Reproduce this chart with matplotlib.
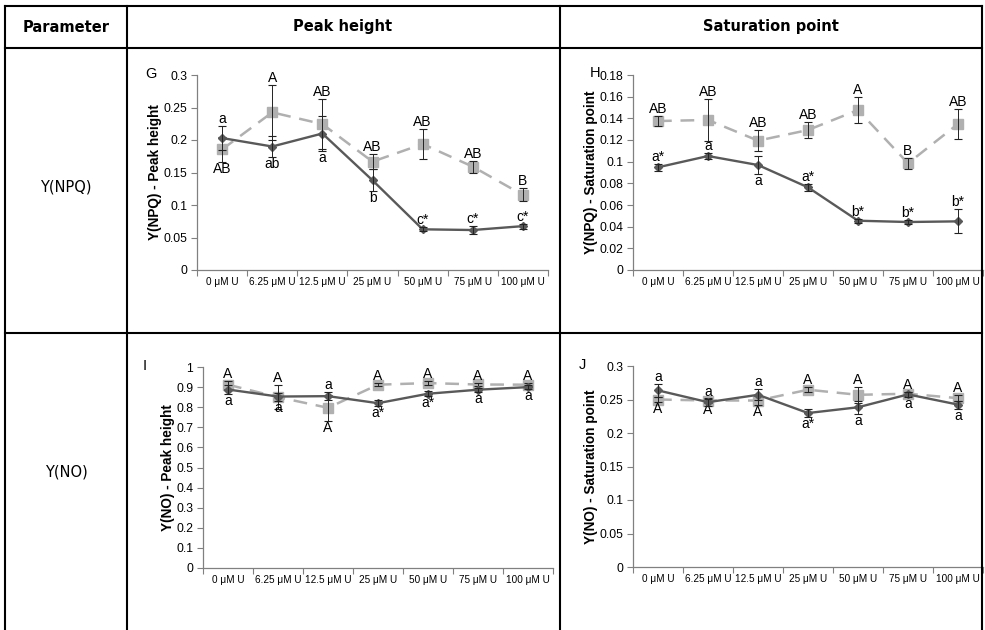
import matplotlib
matplotlib.use('Agg')
import matplotlib.pyplot as plt
from matplotlib.lines import Line2D
from matplotlib.ticker import FuncFormatter
import numpy as np

plt.rcParams['font.family'] = ['Liberation Sans', 'DejaVu Sans']

conc = ['0 μM U', '6.25 μM U', '12.5 μM U', '25 μM U',
        '50 μM U', '75 μM U', '100 μM U']

# G: Y(NPQ) peak height
g_solid = [0.203, 0.190, 0.210, 0.138, 0.0626, 0.0615, 0.0675]
g_solid_err = [0.018, 0.016, 0.027, 0.017, 0.003, 0.006, 0.004]
g_solid_txt = ['a', 'ab', 'a', 'b', 'c*', 'c*', 'c*']
g_solid_pos = ['u', 'd', 'd', 'd', 'u', 'u', 'u']
g_dash = [0.1855, 0.2425, 0.2245, 0.1667, 0.1938, 0.159, 0.1154]
g_dash_err = [0.019, 0.042, 0.038, 0.012, 0.023, 0.009, 0.010]
g_dash_txt = ['AB', 'A', 'AB', 'AB', 'AB', 'AB', 'B']
g_dash_pos = ['d', 'u', 'u', 'u', 'u', 'u', 'u']

# H: Y(NPQ) saturation point
h_solid = [0.0948, 0.1052, 0.0969, 0.0763, 0.0455, 0.0443, 0.0449]
h_solid_err = [0.003, 0.003, 0.008, 0.003, 0.002, 0.002, 0.011]
h_solid_txt = ['a*', 'a', 'a', 'a*', 'b*', 'b*', 'b*']
h_solid_pos = ['u', 'u', 'd', 'u', 'u', 'u', 'u']
h_dash = [0.1375, 0.1385, 0.1194, 0.1292, 0.1477, 0.0985, 0.1348]
h_dash_err = [0.005, 0.019, 0.010, 0.007, 0.012, 0.005, 0.014]
h_dash_txt = ['AB', 'AB', 'AB', 'AB', 'A', 'B', 'AB']
h_dash_pos = ['u', 'u', 'u', 'u', 'u', 'u', 'u']

# I: Y(NO) peak height
i_solid = [0.888, 0.853, 0.855, 0.820, 0.867, 0.887, 0.900]
i_solid_err = [0.02, 0.02, 0.02, 0.015, 0.012, 0.010, 0.008]
i_solid_txt = ['a', 'a', 'a', 'a*', 'a*', 'a', 'a']
i_solid_pos = ['d', 'd', 'u', 'd', 'd', 'd', 'd']
i_dash = [0.912, 0.850, 0.797, 0.912, 0.920, 0.913, 0.912]
i_dash_err = [0.02, 0.06, 0.065, 0.006, 0.010, 0.008, 0.008]
i_dash_txt = ['A', 'A', 'A', 'A', 'A', 'A', 'A']
i_dash_pos = ['u', 'u', 'd', 'u', 'u', 'u', 'u']

# J: Y(NO) saturation point
j_solid = [0.2636, 0.246, 0.257, 0.2298, 0.2384, 0.2576, 0.2424]
j_solid_err = [0.010, 0.005, 0.008, 0.006, 0.010, 0.004, 0.006]
j_solid_txt = ['a', 'a', 'a', 'a*', 'a', 'a', 'a']
j_solid_pos = ['u', 'u', 'u', 'd', 'd', 'd', 'd']
j_dash = [0.250, 0.2485, 0.2485, 0.2646, 0.257, 0.2586, 0.252]
j_dash_err = [0.003, 0.004, 0.006, 0.004, 0.012, 0.003, 0.004]
j_dash_txt = ['A', 'A', 'A', 'A', 'A', 'A', 'A']
j_dash_pos = ['d', 'd', 'd', 'u', 'u', 'u', 'u']

W, H = 985, 630
DARK = '#595959'
LIGHT = '#b0b0b0'

fig = plt.figure(figsize=(W / 100, H / 100), dpi=100)


def px_axes(left, top, right, bottom):
    return fig.add_axes([left / W, 1 - bottom / H, (right - left) / W, (bottom - top) / H])


def hline(y, x0=5, x1=982):
    fig.add_artist(Line2D([x0 / W, x1 / W], [1 - y / H, 1 - y / H], color='black', lw=1.5))


def vline(x, y0=6, y1=H):
    fig.add_artist(Line2D([x / W, x / W], [1 - y0 / H, 1 - y1 / H], color='black', lw=1.5))


def letters(ax, vals, errs, txt, pos):
    for k, (v, e, t, p) in enumerate(zip(vals, errs, txt, pos)):
        if p == 'u':
            ax.annotate(t, (k, v + e), xytext=(0, 0), textcoords='offset points',
                        ha='center', va='bottom', fontsize=10)
        else:
            ax.annotate(t, (k, v - e), xytext=(0, 0), textcoords='offset points',
                        ha='center', va='top', fontsize=10)


def panel(ax, solid, solid_err, solid_txt, solid_pos,
          dash, dash_err, dash_txt, dash_pos, ymax, ystep, ylabel):
    x = np.arange(len(conc))
    ax.plot(x, dash, color=LIGHT, lw=1.8, ls=(0, (5.5, 3.5)), marker='s', ms=7.5,
            zorder=2)
    ax.errorbar(x, dash, yerr=dash_err, fmt='none', ecolor='#222222', elinewidth=0.7,
                capsize=2.8, capthick=0.8, zorder=3)
    ax.plot(x, solid, color=DARK, lw=1.7, marker='D', ms=4.5, zorder=4)
    ax.errorbar(x, solid, yerr=solid_err, fmt='none', ecolor='#222222', elinewidth=0.7,
                capsize=2.8, capthick=0.8, zorder=5)
    letters(ax, solid, solid_err, solid_txt, solid_pos)
    letters(ax, dash, dash_err, dash_txt, dash_pos)

    ax.set_xlim(-0.5, len(conc) - 0.5)
    ax.set_ylim(0, ymax)
    ax.set_yticks(np.arange(0, ymax + ystep / 2, ystep))
    ax.yaxis.set_major_formatter(FuncFormatter(lambda v, _: '%g' % round(v, 4)))
    ax.set_xticks(np.arange(-0.5, len(conc), 1.0))
    ax.set_xticklabels([])
    ax.set_xticks(x, minor=True)
    ax.set_xticklabels(conc, minor=True, fontsize=7.2)
    ax.tick_params(axis='x', which='major', length=4, width=0.8, color='#808080')
    ax.tick_params(axis='x', which='minor', length=0, pad=5)
    ax.tick_params(axis='y', length=4, width=0.8, color='#808080', labelsize=8.7, pad=3)
    for side in ('top', 'right'):
        ax.spines[side].set_visible(False)
    for side in ('left', 'bottom'):
        ax.spines[side].set_color('#808080')
        ax.spines[side].set_linewidth(0.9)
    ax.set_ylabel(ylabel, fontsize=9.8, fontweight='bold', labelpad=1)
    ax.patch.set_alpha(0)


ax_g = px_axes(197, 75, 548, 270)
panel(ax_g, g_solid, g_solid_err, g_solid_txt, g_solid_pos,
      g_dash, g_dash_err, g_dash_txt, g_dash_pos, 0.3, 0.05,
      'Y(NPQ) - Peak height')

ax_h = px_axes(633, 75, 983, 270)
panel(ax_h, h_solid, h_solid_err, h_solid_txt, h_solid_pos,
      h_dash, h_dash_err, h_dash_txt, h_dash_pos, 0.18, 0.02,
      'Y(NPQ) - Saturation point')

ax_i = px_axes(203, 367, 553, 568)
panel(ax_i, i_solid, i_solid_err, i_solid_txt, i_solid_pos,
      i_dash, i_dash_err, i_dash_txt, i_dash_pos, 1.0, 0.1,
      'Y(NO) - Peak height')

ax_j = px_axes(633, 366, 983, 567)
panel(ax_j, j_solid, j_solid_err, j_solid_txt, j_solid_pos,
      j_dash, j_dash_err, j_dash_txt, j_dash_pos, 0.3, 0.05,
      'Y(NO) - Saturation point')

# panel tags
for tag, tx, ty in (('G', 145, 74), ('H', 590, 73), ('I', 143, 366), ('J', 579, 365)):
    fig.text(tx / W, 1 - ty / H, tag, fontsize=10.5, ha='left', va='center')

# table frame
hline(6)
hline(48)
hline(333)
for xv in (5, 127, 560, 982):
    vline(xv)

hdr = dict(family='DejaVu Sans', fontweight='bold', fontsize=10.5, ha='center', va='center')
fig.text(66 / W, 1 - 27 / H, 'Parameter', **hdr)
fig.text(343 / W, 1 - 27 / H, 'Peak height', **hdr)
fig.text(771 / W, 1 - 27 / H, 'Saturation point', **hdr)
row = dict(family='DejaVu Sans', fontsize=10.5, ha='center', va='center')
fig.text(66 / W, 1 - 187 / H, 'Y(NPQ)', **row)
fig.text(66 / W, 1 - 472 / H, 'Y(NO)', **row)

fig.savefig('out.png', dpi=100)
